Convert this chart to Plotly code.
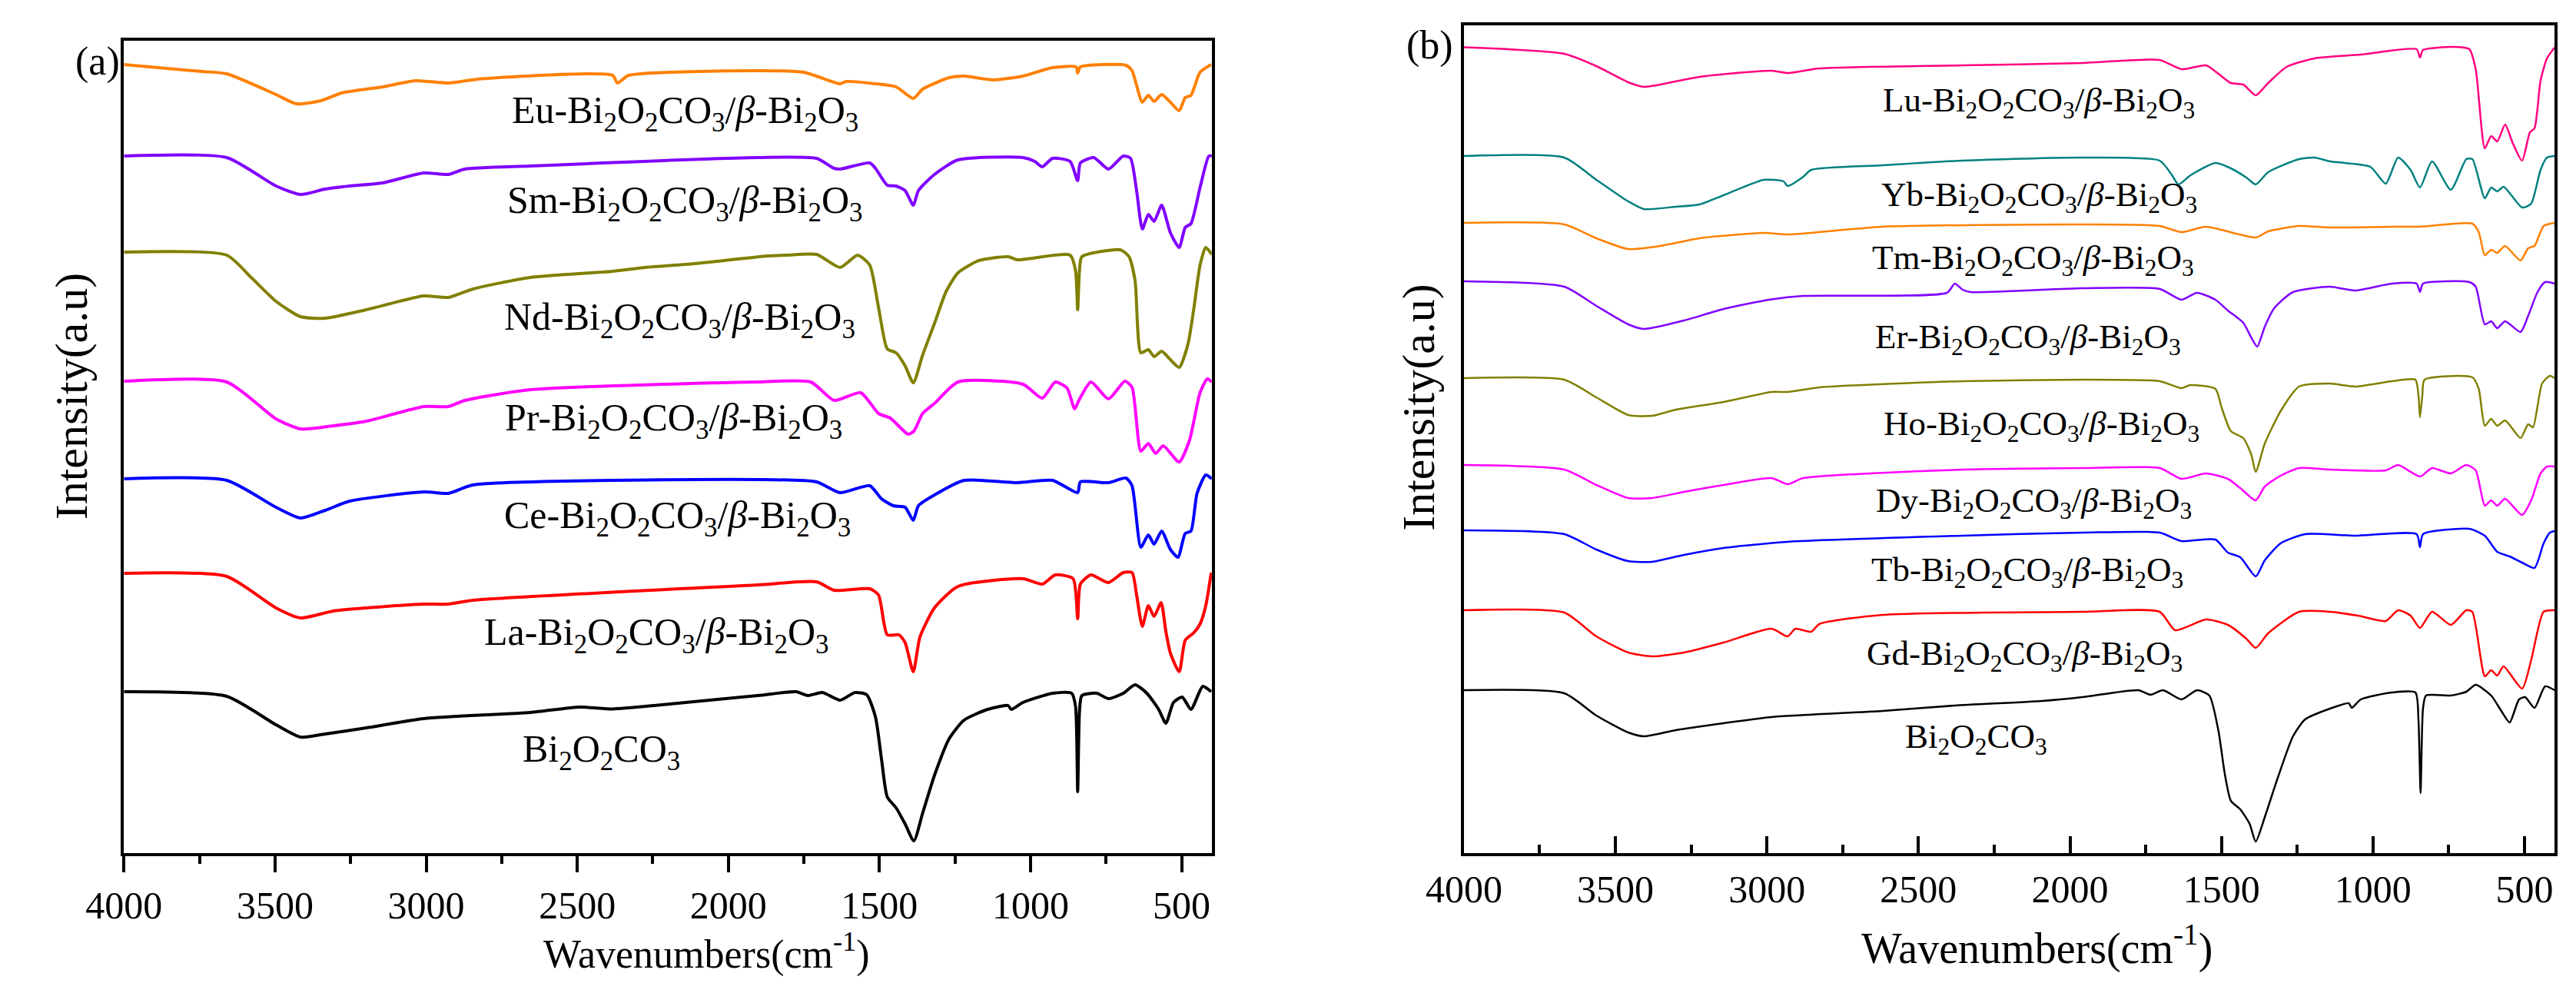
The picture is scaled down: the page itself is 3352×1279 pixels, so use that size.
import plotly.graph_objects as go

# FT-IR spectra (intensities are stacked, arbitrary units)

# ---- panel (a) ----
eu_wn = [4000, 3742, 3660, 3497, 3430, 3348, 3280, 3144, 3035, 2927, 2818, 2383, 2367, 2330, 1903,
         1750, 1708, 1630, 1610, 1513, 1445, 1388, 1357, 1269, 1220, 1123, 1025, 927, 849, 844, 835,
         684, 664, 630, 610, 591, 566, 537, 508, 488, 469, 439, 402]
eu_int = [102.6, 101.7, 101.4, 98.7, 97.5, 97.9, 98.9, 99.7, 100.5, 100.2, 100.75, 101.2, 100.2, 101.2, 101.8,
          101.6, 101.1, 100.1, 100.4, 100.1, 99.7, 98.2, 99.4, 100.9, 101.1, 100.6, 101.1, 102.2, 102.3, 101.5, 102.3,
          102.5, 101.8, 97.7, 98.6, 97.8, 98.7, 97.7, 96.6, 98.3, 98.6, 101.6, 102.6]

sm_wn = [4000, 3660, 3497, 3416, 3334, 3253, 3144, 3008, 2927, 2872, 2655, 1903,
         1708, 1650, 1630, 1532, 1513, 1474, 1445, 1415, 1388, 1371, 1318, 1240, 1025, 986, 961, 927,
         869, 844, 835, 791, 742, 693, 669, 649, 630, 610, 591, 566, 537, 508, 488, 469, 439, 410, 400]
sm_int = [90.7, 90.5, 86.8, 85.7, 86.4, 86.8, 87.2, 88.5, 88.3, 89.0, 89.4, 90.5,
          90.4, 89.1, 89.0, 89.8, 89.1, 86.9, 86.8, 86.2, 84.3, 86.2, 88.3, 90.2, 90.5, 90.0, 89.3, 90.4,
          90.0, 87.5, 89.8, 90.5, 89.0, 90.7, 90.4, 86.2, 81.2, 83.1, 82.2, 84.3, 80.7, 78.8, 81.4, 81.9, 86.6, 90.7, 90.7]

nd_wn = [4000, 3660, 3579, 3497, 3416, 3334, 3198, 3008, 2927, 2845, 2655, 2383, 2275, 2112, 1870,
         1806, 1708, 1630, 1572, 1532, 1503, 1474, 1445, 1415, 1388, 1357, 1318, 1279, 1240, 1171, 1074, 1045,
         869, 851, 844, 838, 830, 703, 674, 654, 635, 610, 591, 566, 537, 508, 479, 459, 439, 420, 400]
nd_int = [78.2, 77.8, 74.9, 71.8, 69.8, 69.6, 70.7, 72.5, 72.3, 73.4, 74.9, 75.7, 76.2, 76.7, 77.7,
          77.8, 77.9, 76.2, 77.8, 76.5, 71.0, 65.6, 65.1, 63.4, 61.2, 64.8, 68.9, 73.1, 75.5, 77.1, 77.6, 77.2,
          77.8, 75.8, 70.7, 75.8, 77.6, 78.5, 77.6, 74.5, 65.1, 65.5, 64.6, 65.3, 64.2, 63.2, 66.2, 71.0, 76.5, 78.8, 77.9]

pr_wn = [4000, 3660, 3497, 3416, 3307, 3198, 3008, 2927, 2872, 2655, 1903,
         1727, 1650, 1562, 1503, 1464, 1405, 1386, 1357, 1318, 1240, 1025, 961, 918, 879, 854, 840,
         800, 742, 688, 664, 635, 610, 586, 561, 508, 474, 439, 415, 400]
pr_int = [61.4, 61.3, 56.5, 55.2, 55.6, 56.2, 58.1, 58.1, 58.9, 60.3, 61.3,
          61.3, 58.9, 59.9, 57.2, 56.6, 54.5, 54.9, 57.2, 58.5, 61.3, 61.0, 59.2, 61.3, 60.5, 57.8, 58.9,
          61.3, 59.1, 61.4, 60.6, 52.3, 53.3, 52.0, 53.0, 50.9, 53.7, 59.9, 61.7, 61.3]

ce_wn = [4000, 3660, 3497, 3416, 3334, 3253, 3008, 2927, 2845, 1903,
         1708, 1630, 1532, 1493, 1454, 1415, 1388, 1371, 1318, 1220, 1045, 927, 844, 835,
         742, 684, 664, 635, 610, 591, 566, 537, 512, 488, 469, 449, 420, 400]
ce_int = [48.7, 48.5, 45.0, 43.6, 44.6, 45.8, 47.0, 46.8, 47.9, 48.6,
          48.3, 46.9, 47.8, 46.1, 45.2, 45.0, 43.3, 45.2, 46.6, 48.5, 48.2, 48.5, 46.9, 48.3,
          48.2, 48.8, 47.8, 39.8, 41.4, 40.2, 41.9, 39.5, 38.5, 41.6, 41.9, 46.8, 49.2, 48.7]

la_wn = [4000, 3660, 3497, 3416, 3307, 3198, 3008, 2927, 2845, 1903,
         1708, 1650, 1532, 1503, 1474, 1435, 1415, 1388, 1366, 1318, 1240, 1025, 961, 918, 859, 844, 835,
         800, 742, 693, 664, 649, 630, 610, 591, 568, 552, 537, 508, 488, 459, 439, 420, 402]
la_int = [36.4, 36.0, 31.9, 30.6, 31.5, 31.9, 32.4, 32.4, 32.9, 34.9,
          35.3, 34.2, 34.4, 33.6, 28.4, 28.4, 27.4, 23.6, 28.1, 31.9, 34.7, 35.7, 35.0, 36.2, 35.7, 30.5, 35.0,
          36.2, 35.2, 36.5, 36.5, 33.6, 29.5, 32.2, 30.8, 32.6, 28.8, 26.0, 23.6, 27.7, 28.7, 29.8, 32.2, 36.5]

bi_a_wn = [4000, 3660, 3497, 3416, 3334, 3198, 3008, 2655, 2492, 2383, 2220, 1903,
           1776, 1737, 1689, 1630, 1581, 1542, 1513, 1493, 1474, 1445, 1415, 1386, 1357, 1318, 1269, 1220,
           1142, 1074, 1064, 1025, 927, 864, 851, 844, 838, 830, 781, 742, 693, 654, 615, 576, 552, 527,
           498, 469, 430, 402]
bi_a_int = [21.0, 20.4, 16.7, 15.1, 15.5, 16.3, 17.5, 18.3, 19.0, 18.75, 19.3, 20.5,
            21.0, 20.5, 20.9, 19.9, 20.9, 20.6, 17.7, 12.2, 7.3, 5.9, 3.8, 1.6, 5.2, 10.1, 14.9, 17.3,
            18.7, 19.2, 18.7, 19.6, 20.8, 20.8, 19.1, 8.0, 18.4, 20.5, 20.8, 20.1, 20.8, 21.9, 20.8, 18.7, 16.9, 19.6,
            20.3, 18.7, 21.7, 21.0]

# ---- panel (b) ----
lu_wn = [4000, 3669, 3563, 3458, 3406, 3327, 3222, 2985, 2932, 2827, 2354, 1959,
         1828, 1704, 1632, 1551, 1510, 1469, 1428, 1387, 1346, 1285, 1193, 1040, 856, 845, 835,
         733, 682, 661, 631, 610, 590, 564, 539, 508, 482, 467, 447, 426, 401]
lu_int = [104.85, 104.0, 102.4, 100.3, 99.7, 100.2, 101.0, 101.8, 101.5, 102.1, 102.5, 102.8,
          103.1, 103.2, 102.0, 102.5, 101.4, 100.2, 100.0, 98.6, 100.2, 102.3, 103.4, 103.9, 104.6, 103.5, 104.5,
          104.9, 104.6, 102.0, 91.7, 93.3, 92.6, 94.8, 92.4, 90.1, 93.8, 94.3, 100.5, 103.4, 104.8]

yb_wn = [4000, 3669, 3563, 3458, 3406, 3301, 3222, 3143, 3011, 2945, 2932, 2880, 2854, 2617, 2354, 1959,
         1704, 1663, 1642, 1602, 1520, 1469, 1418, 1387, 1346, 1244, 1193, 1142, 1009, 958, 917, 876,
         845, 805, 743, 692, 672, 631, 610, 590, 569, 508, 478, 447, 426, 401]
yb_int = [90.7, 90.5, 87.6, 84.8, 83.8, 84.1, 84.4, 85.6, 87.6, 87.4, 86.8, 88.0, 88.9, 89.5, 90.1, 90.5,
          90.1, 88.2, 87.0, 88.2, 89.8, 89.1, 87.9, 87.0, 88.6, 90.3, 90.5, 90.0, 89.3, 87.1, 90.5, 88.9,
          86.6, 90.0, 86.3, 90.3, 90.3, 85.2, 86.6, 86.1, 86.7, 84.0, 84.5, 88.9, 90.5, 90.7]

tm_wn = [4000, 3669, 3563, 3458, 3353, 3222, 3011, 2932, 2617, 1959,
         1704, 1632, 1551, 1387, 1346, 1244, 1142, 938, 845, 672, 651, 631, 610, 590, 564, 513, 488, 467, 437, 401]
tm_int = [82.0, 81.8, 80.0, 78.6, 79.0, 80.0, 80.7, 80.5, 81.5, 81.8,
          81.6, 80.8, 81.5, 80.1, 80.9, 81.6, 81.4, 81.5, 81.5, 81.9, 80.8, 77.8, 78.5, 78.1, 79.0, 77.1, 78.7, 79.0, 81.6, 82.0]

er_wn = [4000, 3669, 3563, 3458, 3406, 3274, 3143, 2985, 2880, 2406, 2380, 2354, 2328, 1959,
         1704, 1632, 1581, 1520, 1479, 1428, 1402, 1382, 1357, 1326, 1264, 1142, 1060, 938, 856, 845, 835,
         682, 661, 631, 610, 590, 564, 513, 488, 457, 432, 401]
er_int = [74.4, 73.7, 71.2, 68.8, 68.2, 69.3, 70.8, 72.05, 72.5, 72.9, 74.1, 73.3, 73.0, 73.5,
          73.4, 72.0, 72.9, 72.0, 70.6, 69.0, 67.1, 65.9, 68.5, 70.9, 73.0, 73.7, 73.2, 74.1, 74.1, 73.0, 74.1,
          74.3, 73.7, 68.8, 69.2, 68.3, 69.2, 67.8, 69.9, 73.0, 74.3, 74.1]

ho_wn = [4000, 3669, 3563, 3458, 3379, 3301, 3143, 2985, 2932, 2827, 2354, 1959,
         1704, 1632, 1602, 1520, 1499, 1469, 1428, 1402, 1387, 1357, 1305, 1244, 1142, 1060, 938, 860, 850,
         845, 837, 830, 672, 651, 631, 610, 590, 564, 513, 488, 472, 442, 416, 401]
ho_int = [61.8, 61.6, 59.3, 57.0, 56.9, 57.7, 58.7, 60.0, 60.0, 60.6, 61.4, 61.6,
          61.4, 60.5, 60.9, 60.4, 57.9, 54.9, 54.0, 51.9, 49.6, 53.3, 57.5, 60.7, 61.1, 60.7, 61.4, 61.6, 59.6,
          56.7, 59.6, 61.6, 61.9, 60.4, 55.6, 56.5, 55.6, 56.3, 54.0, 55.8, 55.4, 61.1, 62.1, 61.8]

dy_wn = [4000, 3669, 3563, 3458, 3379, 3274, 3143, 2985, 2932, 2880, 2354, 1959,
         1704, 1632, 1551, 1479, 1438, 1387, 1357, 1305, 1244, 1142, 958, 917, 845, 805, 743, 692, 661,
         631, 610, 590, 564, 508, 478, 447, 426, 401]
dy_int = [50.5, 49.9, 47.9, 46.2, 46.2, 47.0, 47.9, 48.8, 48.0, 48.8, 49.9, 50.1,
          50.1, 48.7, 49.4, 48.7, 47.5, 45.9, 47.7, 49.1, 50.1, 49.9, 49.8, 50.5, 49.0, 50.1, 49.4, 50.5, 49.8,
          45.2, 45.9, 45.2, 46.1, 44.0, 45.9, 49.4, 50.3, 50.3]

tb_wn = [4000, 3669, 3563, 3458, 3379, 3274, 3143, 2932, 2354, 1959,
         1704, 1632, 1520, 1479, 1438, 1387, 1357, 1305, 1224, 1060, 856, 845, 835, 682, 631, 590, 549,
         508, 467, 437, 416, 401]
tb_int = [42.0, 41.5, 39.5, 38.0, 37.9, 38.8, 39.7, 40.5, 41.3, 41.7,
          41.7, 40.6, 40.8, 39.1, 38.5, 36.0, 38.1, 40.3, 41.5, 41.3, 41.5, 39.8, 41.5, 42.2, 41.3, 39.2, 38.6,
          37.8, 37.1, 40.3, 41.7, 41.9]

gd_wn = [4000, 3669, 3563, 3458, 3379, 3274, 3143, 2985, 2932, 2906, 2854, 2827, 2617, 1959,
         1704, 1653, 1551, 1479, 1418, 1387, 1346, 1244, 1142, 1050, 958, 917, 876, 845, 805, 743, 692,
         672, 631, 610, 590, 569, 508, 478, 437, 401]
gd_int = [31.6, 31.3, 28.2, 26.1, 25.6, 26.1, 27.4, 29.2, 28.2, 29.2, 28.8, 29.8, 31.0, 31.4,
          31.4, 29.0, 30.4, 29.7, 27.9, 26.7, 28.6, 31.4, 31.4, 30.9, 30.2, 31.6, 30.9, 29.3, 31.4, 29.7, 31.6,
          31.4, 23.0, 23.8, 23.1, 24.3, 21.4, 25.1, 31.4, 31.6]

bi_b_wn = [4000, 3669, 3563, 3458, 3406, 3301, 3143, 2985, 2617, 2380, 2091, 1959,
           1775, 1734, 1693, 1632, 1581, 1540, 1510, 1489, 1469, 1438, 1407, 1387, 1357, 1316, 1264, 1224,
           1142, 1080, 1070, 1040, 938, 860, 850, 843, 835, 825, 743, 692, 661, 610, 575, 549, 518, 498,
           467, 432, 401]
bi_b_int = [21.2, 20.8, 17.9, 15.7, 15.2, 16.0, 16.9, 17.7, 18.5, 19.2, 19.8, 20.3,
            21.2, 20.6, 21.2, 20.0, 21.2, 20.5, 15.9, 10.3, 6.8, 5.7, 3.8, 1.5, 4.7, 9.6, 15.2, 17.4,
            18.8, 19.5, 18.9, 20.0, 20.9, 20.9, 17.4, 7.8, 18.8, 20.5, 20.5, 21.0, 21.9, 20.5, 18.4, 17.0, 20.0, 20.3,
            18.9, 21.7, 21.2]

FONT = "Liberation Serif, Times New Roman, serif"
LABEL = "{}-Bi<sub>2</sub>O<sub>2</sub>CO<sub>3</sub>/<i>β</i>-Bi<sub>2</sub>O<sub>3</sub>"
BASE = "Bi<sub>2</sub>O<sub>2</sub>CO<sub>3</sub>"

panel_a = [
    (eu_wn, eu_int, "#ff8000", LABEL.format("Eu"), 2144, 96.3),
    (sm_wn, sm_int, "#8000ff", LABEL.format("Sm"), 2144, 84.6),
    (nd_wn, nd_int, "#808000", LABEL.format("Nd"), 2161, 69.4),
    (pr_wn, pr_int, "#ff00ff", LABEL.format("Pr"), 2181, 56.3),
    (ce_wn, ce_int, "#0000ff", LABEL.format("Ce"), 2169, 43.6),
    (la_wn, la_int, "#ff0000", LABEL.format("La"), 2236, 28.4),
    (bi_a_wn, bi_a_int, "#000000", BASE, 2419, 13.2),
]
panel_b = [
    (lu_wn, lu_int, "#ff0080", LABEL.format("Lu"), 2104, 97.7),
    (yb_wn, yb_int, "#008080", LABEL.format("Yb"), 2101, 85.4),
    (tm_wn, tm_int, "#ff8000", LABEL.format("Tm"), 2121, 77.2),
    (er_wn, er_int, "#8000ff", LABEL.format("Er"), 2139, 66.9),
    (ho_wn, ho_int, "#808000", LABEL.format("Ho"), 2094, 55.6),
    (dy_wn, dy_int, "#ff00ff", LABEL.format("Dy"), 2119, 45.6),
    (tb_wn, tb_int, "#0000ff", LABEL.format("Tb"), 2141, 36.6),
    (gd_wn, gd_int, "#ff0000", LABEL.format("Gd"), 2149, 25.7),
    (bi_b_wn, bi_b_int, "#000000", BASE, 2309, 14.9),
]

fig = go.Figure()
annotations = []

for wn, vals, col, lab, lx, ly in panel_a:
    fig.add_trace(go.Scatter(x=wn, y=vals, mode="lines",
                             line=dict(color=col, width=4, shape="spline", smoothing=0.6),
                             xaxis="x", yaxis="y", showlegend=False))
    annotations.append(dict(x=lx, y=ly, xref="x", yref="y", text=lab, showarrow=False,
                            xanchor="center", yanchor="middle",
                            font=dict(family=FONT, size=50, color="black")))

for wn, vals, col, lab, lx, ly in panel_b:
    fig.add_trace(go.Scatter(x=wn, y=vals, mode="lines",
                             line=dict(color=col, width=2.5, shape="spline", smoothing=0.6),
                             xaxis="x2", yaxis="y2", showlegend=False))
    annotations.append(dict(x=lx, y=ly, xref="x2", yref="y2", text=lab, showarrow=False,
                            xanchor="center", yanchor="middle",
                            font=dict(family=FONT, size=45, color="black")))


def paper_text(px, py, txt, size, angle=0):
    # position given in pixels of the 3352x1279 canvas, measured from the top-left corner
    return dict(x=px / 3352, y=1 - py / 1279, xref="paper", yref="paper", text=txt,
                textangle=angle, showarrow=False, xanchor="center", yanchor="middle",
                font=dict(family=FONT, size=size, color="black"))


annotations += [
    paper_text(78, 80, "(a)", 52),
    paper_text(1838, 59, "(b)", 52),
    paper_text(44, 515, "Intensity(a.u)", 60, -90),
    paper_text(1823, 530, "Intensity(a.u)", 60, -90),
    paper_text(883, 1238, "Wavenumbers(cm<sup>-1</sup>)", 52),
    paper_text(2640, 1230, "Wavenumbers(cm<sup>-1</sup>)", 56),
]

xcommon = dict(range=[4000, 400], dtick=500, tick0=0, showline=True, linecolor="black", linewidth=4,
               mirror=True, showgrid=False, zeroline=False, tickwidth=4, tickcolor="black",
               tickfont=dict(family=FONT, size=50, color="black"))
ycommon = dict(showline=True, linecolor="black", linewidth=4, mirror=True, showgrid=False,
               zeroline=False, showticklabels=False, ticks="")

fig.update_layout(
    width=3352, height=1279,
    margin=dict(l=0, r=0, t=0, b=0),
    paper_bgcolor="white", plot_bgcolor="white",
    font=dict(family=FONT, color="black"),
    xaxis=dict(domain=[113 / 3352, 1550 / 3352], anchor="y", ticks="outside", ticklen=21,
               minor=dict(dtick=250, ticks="outside", ticklen=10, tickwidth=4, tickcolor="black"),
               **xcommon),
    yaxis=dict(domain=[1 - 1110 / 1279, 1 - 53 / 1279], anchor="x", range=[0, 105.7], **ycommon),
    xaxis2=dict(domain=[1883 / 3352, 3324 / 3352], anchor="y2", ticks="inside", ticklen=22,
                minor=dict(dtick=250, ticks="inside", ticklen=11, tickwidth=4, tickcolor="black"),
                **xcommon),
    yaxis2=dict(domain=[1 - 1110 / 1279, 1 - 33 / 1279], anchor="x2", range=[0, 107.7], **ycommon),
    annotations=annotations,
)

fig.write_html("out.html", config={"displayModeBar": False},
               post_script="document.body.style.margin='0';")
